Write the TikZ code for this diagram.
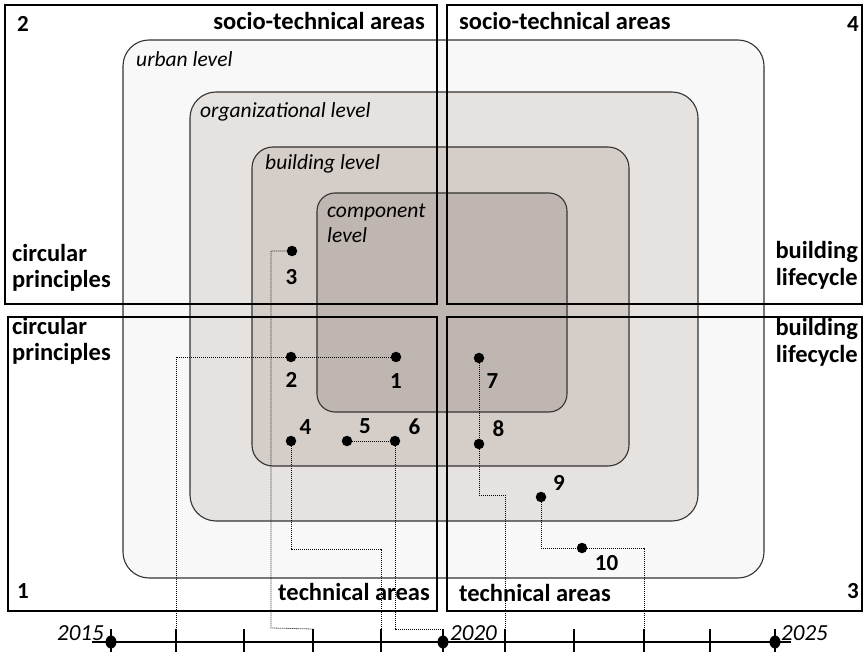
\documentclass[tikz,border=0pt]{standalone}
\usepackage{fontspec}
\setmainfont{Carlito}
\definecolor{urbanc}{HTML}{F8F8F8}
\definecolor{orgc}{HTML}{E6E2DF}
\definecolor{bldc}{HTML}{D5CDC8}
\definecolor{compc}{HTML}{BFB5B1}
\definecolor{edgec}{HTML}{333333}
\tikzset{
  lvl/.style={draw=edgec, line width=1.1pt},
  quad/.style={draw=black, line width=2.4pt},
  conn/.style={draw=black, line width=0.8pt, dash pattern=on 1pt off 1pt},
  dotn/.style={circle, fill=black, inner sep=0pt, minimum size=10.5pt},
  ydot/.style={ellipse, fill=black, inner sep=0pt, minimum width=11pt, minimum height=13pt},
  btxt/.style={inner sep=0pt, font=\fontsize{24.5}{29}\selectfont\bfseries},
  itxt/.style={inner sep=0pt, font=\fontsize{21.5}{25}\selectfont\itshape},
  ytxt/.style={inner sep=0pt, font=\fontsize{23}{27}\selectfont\itshape},
  ntxt/.style={inner sep=0pt, font=\fontsize{23}{27}\selectfont\bfseries},
  tick/.style={draw=black, line width=1.1pt}
}
\usetikzlibrary{shapes.geometric}
\begin{document}
\begin{tikzpicture}[x=1pt,y=-1pt]
\useasboundingbox (0,0) rectangle (868,652);
% levels
\draw[lvl, fill=urbanc, rounded corners=26pt] (123,40) rectangle (764,578);
\draw[lvl, fill=orgc, rounded corners=26pt] (190,92) rectangle (698,521);
\draw[lvl, fill=bldc, rounded corners=21pt] (252,147) rectangle (629,466);
\draw[lvl, fill=compc, rounded corners=18pt] (317,193) rectangle (567,412);
% level labels
\node[itxt, anchor=base west] (lurb) at (136,67) {urban level};
\node[itxt, anchor=base west] (lorg) at (200,118) {organizational level};
\node[itxt, anchor=base west] (lbld) at (265,170) {building level};
\node[itxt, anchor=base west] (lcmp1) at (327,218) {component};
\node[itxt, anchor=base west] (lcmp2) at (327,243) {level};
% quadrants
\draw[quad] (5,5) rectangle (437,304);
\draw[quad] (447,5) rectangle (862,304);
\draw[quad] (8,317) rectangle (437,611);
\draw[quad] (447,317) rectangle (862,611);
% quadrant texts
\node[btxt, anchor=base east] (s2) at (425,30) {socio-technical areas};
\node[btxt, anchor=base west] (s4) at (459,30) {socio-technical areas};
\node[ntxt, anchor=base west] (n2) at (17,32) {2};
\node[ntxt, anchor=base east] (n4) at (859,32) {4};
\node[ntxt, anchor=base west] (n1) at (17,598) {1};
\node[ntxt, anchor=base east] (n3) at (859,598) {3};
\node[btxt, anchor=base east] (t1q) at (430,600) {technical areas};
\node[btxt, anchor=base west] (t3q) at (459,601) {technical areas};
\node[btxt, anchor=base west] (c2a) at (12,262) {circular};
\node[btxt, anchor=base west] (c2b) at (12,288) {principles};
\node[btxt, anchor=base west] (c1a) at (12,335) {circular};
\node[btxt, anchor=base west] (c1b) at (12,361) {principles};
\node[btxt, anchor=base east] (b4a) at (858,259) {building};
\node[btxt, anchor=base east] (b4b) at (858,286) {lifecycle};
\node[btxt, anchor=base east] (b3a) at (858,336) {building};
\node[btxt, anchor=base east] (b3b) at (858,363) {lifecycle};
% timeline
\coordinate (tl0) at (92,642);
\coordinate (tl1) at (791,642);
\draw[line width=1.3pt] (tl0) -- (tl1);
\foreach \x/\n in {111/a,176/b,244/c,313/d,381/e,443/f,505/g,574/h,644/i,710/j,775/k}{
  \coordinate (tk\n) at (\x,629);
  \coordinate (tb\n) at (\x,652);
  \draw[tick] (tk\n) -- (tb\n);
}
\node[ydot] (y15) at (111,642) {};
\node[ydot] (y20) at (443,642) {};
\node[ydot] (y25) at (775,642) {};
\node[ytxt, anchor=base east] (l15) at (104,640) {2015};
\node[ytxt, anchor=base west] (l20) at (450,640) {2020};
\node[ytxt, anchor=base west] (l25) at (781,640) {2025};
% dots
\node[dotn] (d1) at (396,357) {};
\node[dotn] (d2) at (291,357) {};
\node[dotn] (d3) at (292,251) {};
\node[dotn] (d4) at (291,441) {};
\node[dotn] (d5) at (347,441) {};
\node[dotn] (d6) at (395,441) {};
\node[dotn] (d7) at (479,358) {};
\node[dotn] (d8) at (479,444) {};
\node[dotn] (d9) at (541,497) {};
\node[dotn] (d10) at (582,548) {};
\node[ntxt] (k1) at (396,381) {1};
\node[ntxt] (k2) at (291.5,380) {2};
\node[ntxt] (k3) at (291.5,277) {3};
\node[ntxt] (k4) at (305.5,427) {4};
\node[ntxt] (k5) at (365,426) {5};
\node[ntxt] (k6) at (414.5,427) {6};
\node[ntxt] (k7) at (492.5,381) {7};
\node[ntxt] (k8) at (498.5,429) {8};
\node[ntxt] (k9) at (559,483) {9};
\node[ntxt] (k10) at (606.5,563) {10};
% connectors
\coordinate (c3) at (271,628);
\coordinate (c4) at (381,549);
\coordinate (c8) at (505,495);
\draw[conn] (d1) -- (d2);
\draw[conn] (d2) -| (tkb);
\draw[conn] (d3) -| (c3) -- (tkd);
\draw[conn] (d4) |- (c4) -- (tke);
\draw[conn] (d5) -- (d6);
\draw[conn] (d6) |- (tkf);
\draw[conn] (d7) -- (d8);
\draw[conn] (d8) |- (c8) -- (tkg);
\draw[conn] (d9) |- (d10);
\draw[conn] (d10) -| (tki);
\end{tikzpicture}
\end{document}
